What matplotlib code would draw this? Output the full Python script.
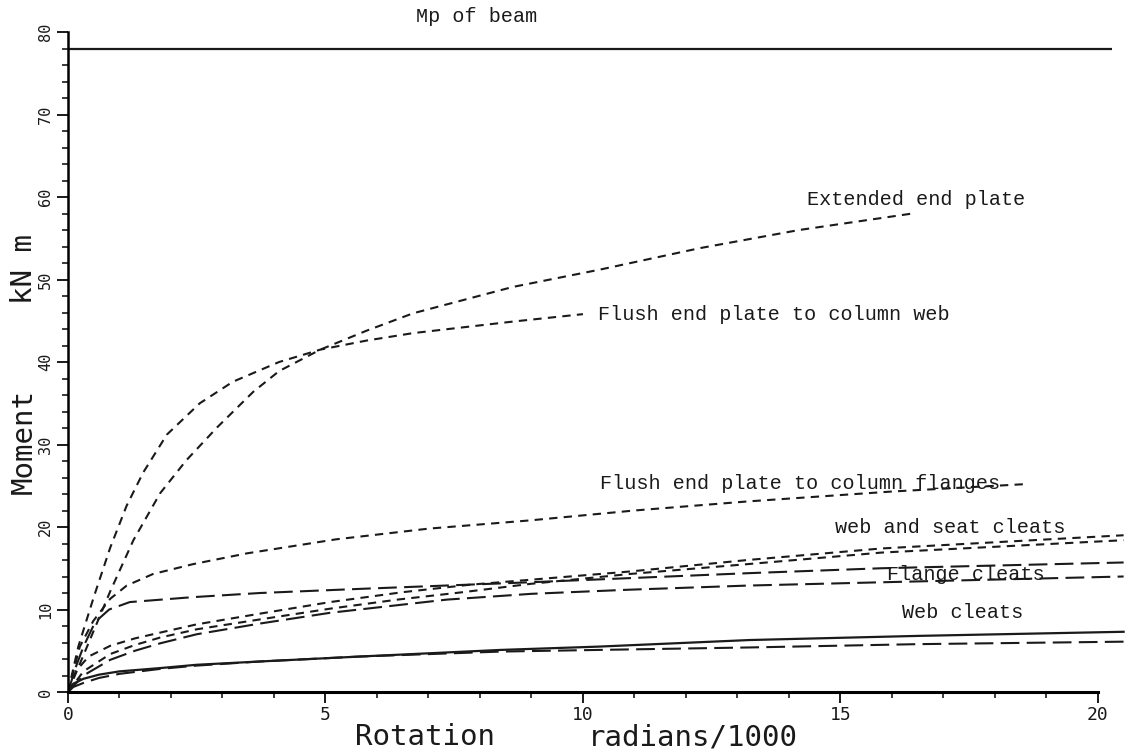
import matplotlib.pyplot as plt
from matplotlib.ticker import MultipleLocator

# moment-rotation curves, rotation in radians/1000, moment in kN m
mp_beam = 78.0
mp_end = 20.27

ext_x = [0, 0.37, 0.82, 1.27, 1.79, 2.3, 2.9, 3.6, 4.1, 4.9, 5.8, 6.7, 8.64, 10.33, 12.27, 14.2, 16.4]
ext_y = [0, 5.5, 12.2, 18.4, 24.1, 28.1, 32.1, 36.4, 38.9, 41.5, 43.8, 45.9, 49.1, 51.2, 53.8, 56.0, 58.0]

fweb_x = [0, 0.2, 0.5, 0.82, 1.14, 1.46, 1.92, 2.56, 3.2, 4.1, 4.9, 5.8, 6.7, 8.64, 10.0]
fweb_y = [0, 5.5, 11.5, 17.5, 22.6, 26.6, 31.2, 35.0, 37.6, 40.0, 41.5, 42.6, 43.5, 44.9, 45.8]

fflg_x = [0, 0.23, 0.49, 0.82, 1.14, 1.65, 2.43, 3.47, 5.2, 7.0, 8.97, 11.0, 13.2, 16.0, 18.6]
fflg_y = [0, 5.5, 8.6, 11.3, 12.9, 14.3, 15.5, 16.8, 18.5, 19.8, 20.8, 22.0, 23.1, 24.3, 25.2]

ws1_x = [0, 0.15, 0.4, 0.82, 1.3, 1.79, 2.5, 3.73, 5.09, 6.5, 7.8, 8.97, 10.9, 13.2, 15.8, 20.5]
ws1_y = [0, 2.5, 4.3, 5.6, 6.5, 7.2, 8.2, 9.5, 10.9, 12.1, 13.0, 13.6, 14.6, 16.0, 17.4, 19.0]

ws2_x = [0, 0.3, 0.82, 1.3, 1.79, 2.5, 3.73, 5.09, 6.4, 7.67, 8.97, 10.9, 13.2, 15.8, 20.5]
ws2_y = [0, 2.5, 4.6, 5.7, 6.6, 7.6, 8.8, 10.1, 11.2, 12.1, 13.1, 14.3, 15.5, 16.9, 18.4]

fc1_x = [0, 0.15, 0.3, 0.53, 0.8, 1.2, 2.43, 3.73, 5.67, 8.97, 13.2, 15.8, 20.5]
fc1_y = [0, 3.0, 5.5, 8.5, 10.0, 10.9, 11.5, 12.0, 12.5, 13.3, 14.4, 15.0, 15.7]

fc2_x = [0, 0.3, 0.82, 1.3, 1.79, 2.5, 3.73, 5.09, 7.36, 9.0, 10.9, 13.2, 15.8, 20.5]
fc2_y = [0, 2.0, 3.9, 5.0, 5.9, 7.0, 8.3, 9.6, 11.2, 11.9, 12.4, 12.9, 13.3, 14.0]

wc1_x = [0, 0.1, 0.3, 0.6, 1.0, 1.79, 2.5, 3.73, 5.67, 8.4, 10.3, 13.24, 16.5, 20.5]
wc1_y = [0, 1.0, 1.6, 2.1, 2.5, 2.9, 3.3, 3.7, 4.3, 5.1, 5.5, 6.3, 6.8, 7.3]

wc2_x = [0, 0.1, 0.3, 0.6, 1.0, 1.79, 2.5, 3.73, 5.67, 8.4, 10.3, 13.24, 16.5, 20.5]
wc2_y = [0, 0.6, 1.1, 1.7, 2.2, 2.8, 3.2, 3.7, 4.3, 4.9, 5.1, 5.4, 5.8, 6.1]

# curve labels: text, x, baseline y
labels = [
    ("Mp of beam", 6.75, 81.2),
    ("Extended end plate", 14.35, 59.0),
    ("Flush end plate to column web", 10.29, 45.1),
    ("Flush end plate to column flanges", 10.33, 24.6),
    ("web and seat cleats", 14.9, 19.3),
    ("Flange cleats", 15.9, 13.6),
    ("Web cleats", 16.2, 9.0),
]

ink = "#1a1a1a"
short = (0, (4, 3))
long_ = (0, (9, 3.5))

fig = plt.figure(figsize=(11.37, 7.54), dpi=100)
ax = fig.add_axes([68 / 1137, 62 / 754, 1069 / 1137, 660 / 754])

ax.plot([0, mp_end], [mp_beam, mp_beam], color=ink, lw=1.6, solid_capstyle="butt")
ax.plot(ext_x, ext_y, color=ink, lw=1.5, ls=short)
ax.plot(fweb_x, fweb_y, color=ink, lw=1.5, ls=short)
ax.plot(fflg_x, fflg_y, color=ink, lw=1.5, ls=short)
ax.plot(ws1_x, ws1_y, color=ink, lw=1.5, ls=short)
ax.plot(ws2_x, ws2_y, color=ink, lw=1.5, ls=short)
ax.plot(fc1_x, fc1_y, color=ink, lw=1.5, ls=long_)
ax.plot(fc2_x, fc2_y, color=ink, lw=1.5, ls=long_)
ax.plot(wc1_x, wc1_y, color=ink, lw=1.6)
ax.plot(wc2_x, wc2_y, color=ink, lw=1.5, ls=long_)

for text, x, y in labels:
    ax.text(x, y, text, family="Liberation Mono", fontsize=14.5, color=ink,
            va="baseline", ha="left", clip_on=False, zorder=1)

ax.set_xlim(0, 20.76)
ax.set_ylim(0, 80)

for side in ["top", "right"]:
    ax.spines[side].set_visible(False)
ax.spines["left"].set_bounds(0, 80)
ax.spines["bottom"].set_bounds(0, 20)
ax.spines["left"].set_linewidth(1.8)
ax.spines["bottom"].set_linewidth(2.2)

ax.xaxis.set_major_locator(MultipleLocator(5))
ax.xaxis.set_minor_locator(MultipleLocator(1))
ax.yaxis.set_major_locator(MultipleLocator(10))
ax.yaxis.set_minor_locator(MultipleLocator(2))
ax.set_xticks([0, 5, 10, 15, 20])
ax.tick_params(which="major", length=8, width=1.4, color=ink)
ax.tick_params(which="minor", length=4, width=1.2, color=ink)
ax.tick_params(axis="x", labelsize=13, pad=2, labelcolor=ink)
ax.tick_params(axis="y", labelsize=11, pad=3, labelcolor=ink)
for lab in ax.get_xticklabels():
    lab.set_family("DejaVu Sans Mono")
for lab in ax.get_yticklabels():
    lab.set_family("DejaVu Sans Mono")
    lab.set_rotation(90)
    lab.set_va("center")

# axis titles in the plotter font
fig.text(24 / 1137, 1 - 442 / 754, "Moment", family="DejaVu Sans Mono", fontsize=21,
         rotation=90, ha="center", va="center", color=ink)
fig.text(24 / 1137, 1 - 269 / 754, "kN m", family="DejaVu Sans Mono", fontsize=21,
         rotation=90, ha="center", va="center", color=ink)
fig.text(425 / 1137, 1 - 737 / 754, "Rotation", family="DejaVu Sans Mono", fontsize=21,
         ha="center", va="center", color=ink)
fig.text(693 / 1137, 1 - 737 / 754, "radians/1000", family="DejaVu Sans Mono", fontsize=21,
         ha="center", va="center", color=ink)

fig.savefig("out.png", dpi=100)
